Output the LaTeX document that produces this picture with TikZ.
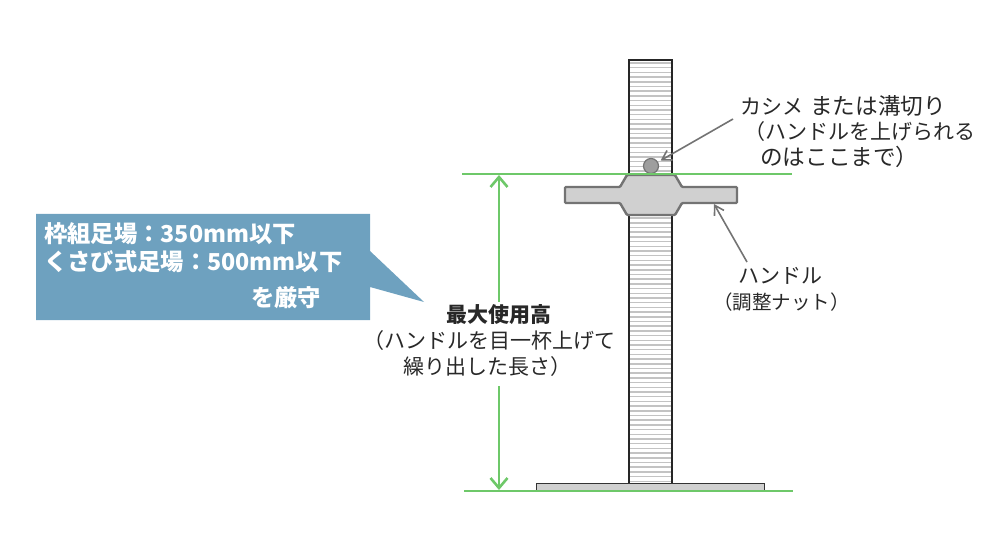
\documentclass[tikz,border=0pt]{standalone}
\usepackage{fontspec}
\setmainfont{Noto Sans CJK JP}
\usetikzlibrary{arrows.meta}
\definecolor{grn}{RGB}{110,200,105}
\definecolor{callout}{RGB}{110,161,191}
\definecolor{hgray}{RGB}{208,208,208}
\definecolor{hedge}{RGB}{115,115,115}
\definecolor{tgray}{RGB}{40,40,40}
\definecolor{thread}{RGB}{195,195,195}
\tikzset{
  greenline/.style={grn,line width=1.6pt},
  dim/.style={grn,line width=2.6pt},
  dimtip/.tip={Straight Barb[length=10pt,width=17pt,line width=2.6pt]},
  pointer/.style={draw=hedge,line width=1.6pt,-{Straight Barb[length=9pt,width=11pt,line width=1.6pt]}},
  lab/.style={font=\fontsize{21}{26}\selectfont,text=tgray,inner sep=0pt,anchor=west,align=left},
  calltext/.style={font=\fontsize{23.3}{26}\selectfont\bfseries,text=white,inner sep=0pt,anchor=west},
}
\begin{document}
\begin{tikzpicture}[x=1pt,y=-1pt]
\useasboundingbox (0,0) rectangle (1000,537);
% callout
\fill[callout] (36,214) -- (370,214) -- (370,251) -- (424,302) -- (370,287) -- (370,320) -- (36,320) -- cycle;
\node[calltext] (c1) at (44,234) {枠組足場：350mm以下};
\node[calltext] (c2) at (44,262) {くさび式足場：500mm以下};
\node[calltext] (c3) at (251,298) {を厳守};
% pole
\fill[white] (629,60) rectangle (672,483);
\foreach \y in {63,67.7,...,483} \draw[thread,line width=1.5pt] (629,\y) -- (672,\y);
\draw[black!85,line width=1.6pt] (629,483) -- (629,60) -- (672,60) -- (672,483);
% base
\draw[black!80,fill=hgray,line width=1.3pt] (536.5,491) -- (536.5,483.5) -- (764.5,483.5) -- (764.5,491);
% handle
\draw[hedge,fill=hgray,line width=2.4pt,rounded corners=1pt] (565,187) -- (620,187) -- (627,175) -- (675,175) -- (682,187) -- (737,187) -- (737,203) -- (682,203) -- (675,215) -- (627,215) -- (620,203) -- (565,203) -- cycle;
\coordinate (hnd) at (714,204);
% stop circle
\node[circle,draw=hedge,fill=black!38,line width=1.2pt,minimum size=15pt,inner sep=0pt] (stop) at (651,166) {};
% green lines
\coordinate (g1a) at (462,174); \coordinate (g1b) at (792,174);
\coordinate (g2a) at (464,491); \coordinate (g2b) at (793,491);
\draw[greenline] (g1a) -- (g1b);
\draw[greenline] (g2a) -- (g2b);
\coordinate (dimtop) at (499,175);
\coordinate (dimbot) at (499,490);
% labels
\node[lab] (kashime) at (740,106) {カシメ\hspace{7pt}{\fontsize{22.6}{26}\selectfont または溝切り}};
\node[lab] (k2) at (744,132) {（ハンドルを上げられる};
\node[lab,font=\fontsize{22.6}{26}\selectfont] (k3) at (760,157) {のはここまで）};
\node[lab] (h1) at (738,276) {ハンドル};
\node[lab,font=\fontsize{19.5}{26}\selectfont] (h2) at (713,302) {（調整ナット）};
\node[lab,font=\fontsize{21}{26}\selectfont\bfseries] (m1) at (446,315) {最大使用高};
\node[lab] (m2) at (363,341) {（ハンドルを目一杯上げて};
\node[lab] (m3) at (403,367) {繰り出した長さ）};
% connectors
\coordinate (m1top) at (499,302);
\coordinate (m3bot) at (499,386);
\draw[dim,dimtip-] (dimtop) -- (m1top);
\draw[dim,-dimtip] (m3bot) -- (dimbot);
\coordinate (pk) at (733,119);
\draw[pointer,shorten >=3pt] (pk) -- (stop);
\coordinate (ph) at (747,262);
\draw[pointer] (ph) -- (hnd);
\end{tikzpicture}
\end{document}
